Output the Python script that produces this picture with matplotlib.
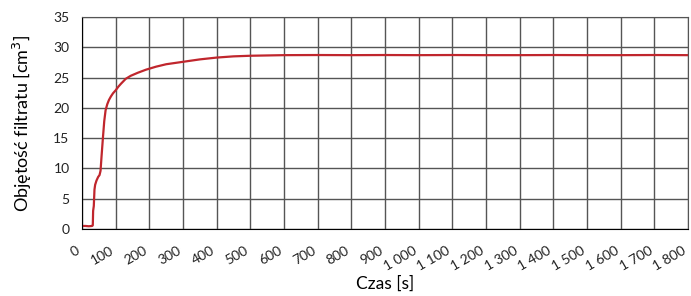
import numpy as np
import matplotlib.pyplot as plt
import matplotlib.transforms as mtransforms
from matplotlib.ticker import FuncFormatter

# filtrate volume vs time
czas = [0, 10, 20, 30, 32, 33, 35, 37, 39, 43, 48, 52, 55, 58, 62, 66, 70, 75,
        80, 86, 92, 100, 108, 116, 130, 145, 166, 190, 220, 250, 300, 350, 400,
        450, 500, 550, 600, 700, 800, 900, 1000, 1100, 1200, 1300, 1400, 1500,
        1600, 1700, 1800]
objetosc = [0.5, 0.5, 0.45, 0.5, 0.6, 3.0, 3.8, 6.5, 7.3, 8.0, 8.6, 8.9, 9.6,
            12.0, 15.0, 17.8, 19.6, 20.6, 21.3, 21.9, 22.4, 22.9, 23.5, 24.0,
            24.8, 25.3, 25.8, 26.3, 26.8, 27.2, 27.6, 28.0, 28.3, 28.5, 28.6,
            28.65, 28.7, 28.72, 28.7, 28.72, 28.7, 28.72, 28.7, 28.7, 28.72,
            28.7, 28.7, 28.72, 28.7]

x_ticks = np.arange(0, 1801, 100)
y_ticks = np.arange(0, 36, 5)

plt.rcParams['font.family'] = ['Lato', 'DejaVu Sans']

fig = plt.figure(figsize=(6.91, 2.96), dpi=100)
ax = fig.add_axes([0.1187, 0.2264, 0.877, 0.7162])

ax.plot(czas, objetosc, color='#C0262D', lw=1.6)

ax.set_xlim(0, 1800)
ax.set_ylim(0, 35)
ax.set_xticks(x_ticks)
ax.set_yticks(y_ticks)
ax.xaxis.set_major_formatter(FuncFormatter(lambda v, p: f'{int(v):,}'.replace(',', ' ')))
ax.grid(True, color='#555555', lw=1)
ax.tick_params(length=0, labelsize=10, colors='#222222')
ax.tick_params(axis='y', pad=9)
ax.tick_params(axis='x', pad=15)
shift = mtransforms.ScaledTranslation(-3/100, 0, fig.dpi_scale_trans)
for lab in ax.get_xticklabels():
    lab.set_rotation(30)
    lab.set_ha('right')
    lab.set_va('center')
    lab.set_rotation_mode('anchor')
    lab.set_transform(lab.get_transform() + shift)
for s in ax.spines.values():
    s.set_color('#555555')
ax.spines['left'].set_color('black')
ax.spines['bottom'].set_color('black')

ax.set_xlabel('Czas [s]', fontsize=12.5, labelpad=2)
ax.set_ylabel('Objętość filtratu [cm$^3$]', fontsize=13, labelpad=14)

fig.savefig('out.png', dpi=100)
